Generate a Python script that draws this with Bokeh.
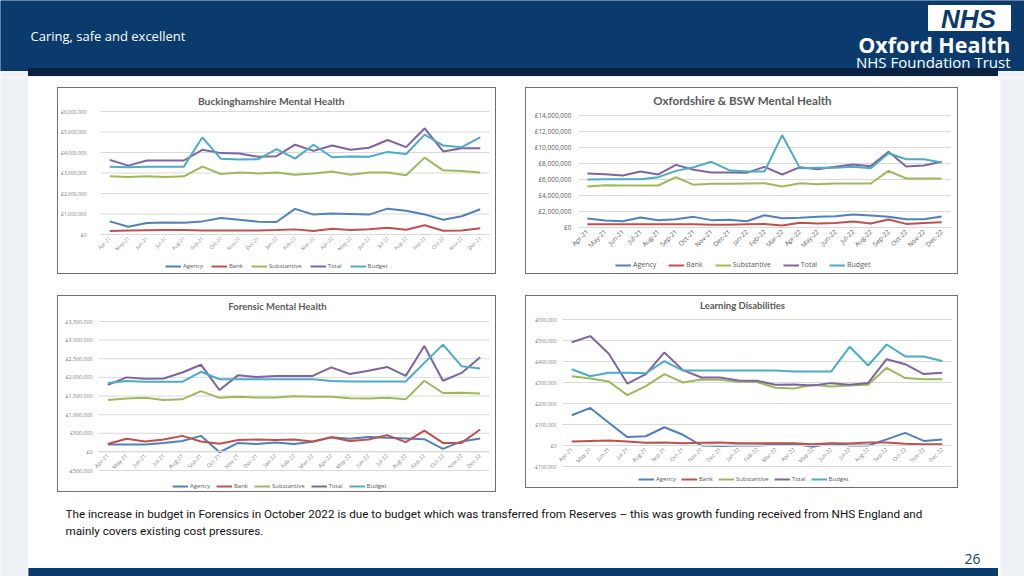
import math
from bokeh.plotting import figure
from bokeh.models import (Range1d, FixedTicker, CustomJSTickFormatter,
                          Legend, LegendItem, Label, Spacer)
from bokeh.layouts import row, column
from bokeh.embed import file_html
from bokeh.resources import INLINE

# ---------------- data ----------------
months = ["Apr-21", "May-21", "Jun-21", "Jul-21", "Aug-21", "Sep-21", "Oct-21", "Nov-21",
          "Dec-21", "Jan-22", "Feb-22", "Mar-22", "Apr-22", "May-22", "Jun-22", "Jul-22",
          "Aug-22", "Sep-22", "Oct-22", "Nov-22", "Dec-22"]
series_names = ["Agency", "Bank", "Substantive", "Total", "Budget"]
series_colors = ["#4f81bd", "#c0504d", "#9bbb59", "#8064a2", "#4bacc6"]

# Buckinghamshire Mental Health
bucks_agency = [640000, 380000, 560000, 590000, 570000, 640000, 800000, 720000, 620000, 610000, 1250000,
                970000, 1020000, 1000000, 970000, 1260000, 1160000, 980000, 720000, 890000, 1230000]
bucks_bank = [170000, 190000, 210000, 215000, 215000, 200000, 200000, 200000, 200000, 220000, 250000,
              170000, 280000, 220000, 260000, 330000, 230000, 450000, 180000, 200000, 300000]
bucks_substantive = [2840000, 2800000, 2840000, 2800000, 2840000, 3310000, 2950000, 3020000, 2980000, 3020000,
                     2920000, 2970000, 3070000, 2920000, 3020000, 3020000, 2890000, 3750000, 3130000, 3100000,
                     3020000]
bucks_total = [3640000, 3360000, 3610000, 3610000, 3610000, 4130000, 3970000, 3950000, 3790000, 3820000,
               4380000, 4080000, 4340000, 4130000, 4230000, 4610000, 4260000, 5180000, 4050000, 4210000,
               4210000]
bucks_budget = [3310000, 3280000, 3300000, 3300000, 3310000, 4740000, 3690000, 3660000, 3670000, 4160000,
                3700000, 4380000, 3770000, 3800000, 3790000, 4030000, 3930000, 4870000, 4340000, 4260000,
                4740000]
bucks_ticks = [0, 1000000, 2000000, 3000000, 4000000, 5000000, 6000000]

# Oxfordshire & BSW Mental Health
oxon_agency = [1120000, 870000, 790000, 1250000, 920000, 1040000, 1330000, 920000, 960000, 790000, 1540000,
               1170000, 1210000, 1330000, 1420000, 1630000, 1500000, 1330000, 1040000, 1040000, 1380000]
oxon_bank = [420000, 400000, 400000, 420000, 420000, 420000, 400000, 350000, 350000, 400000, 450000,
             250000, 600000, 500000, 550000, 750000, 500000, 1000000, 450000, 550000, 650000]
oxon_substantive = [5130000, 5290000, 5250000, 5250000, 5250000, 6290000, 5330000, 5460000, 5460000, 5500000,
                    5540000, 5130000, 5540000, 5420000, 5500000, 5500000, 5500000, 7080000, 6130000, 6130000,
                    6130000]
oxon_total = [6750000, 6670000, 6500000, 7000000, 6630000, 7830000, 7210000, 6880000, 6880000, 6830000,
              7580000, 6630000, 7540000, 7290000, 7580000, 7880000, 7670000, 9460000, 7630000, 7750000,
              8210000]
oxon_budget = [6000000, 6040000, 6040000, 6040000, 6290000, 7080000, 7540000, 8210000, 7170000, 7000000,
               7000000, 11540000, 7420000, 7460000, 7460000, 7580000, 7420000, 9290000, 8540000, 8540000,
               8130000]
oxon_ticks = [0, 2000000, 4000000, 6000000, 8000000, 10000000, 12000000, 14000000]

# Forensic Mental Health
foren_agency = [200000, 200000, 200000, 240000, 290000, 430000, -10000, 240000, 210000, 250000, 210000,
                270000, 390000, 350000, 400000, 380000, 360000, 340000, 80000, 280000, 360000]
foren_bank = [210000, 350000, 280000, 330000, 430000, 280000, 220000, 320000, 330000, 320000, 330000,
              280000, 390000, 290000, 330000, 450000, 260000, 570000, 240000, 240000, 600000]
foren_substantive = [1390000, 1430000, 1450000, 1390000, 1410000, 1630000, 1450000, 1480000, 1460000, 1460000,
                     1490000, 1480000, 1480000, 1440000, 1430000, 1450000, 1410000, 1910000, 1580000, 1590000,
                     1570000]
foren_total = [1800000, 2000000, 1960000, 1970000, 2130000, 2340000, 1660000, 2060000, 2010000, 2040000,
               2040000, 2040000, 2270000, 2090000, 2180000, 2280000, 2040000, 2840000, 1910000, 2120000,
               2540000]
foren_budget = [1850000, 1900000, 1880000, 1880000, 1880000, 2150000, 1950000, 1950000, 1950000, 1950000,
                1950000, 1950000, 1900000, 1890000, 1890000, 1890000, 1890000, 2390000, 2880000, 2300000,
                2240000]
foren_ticks = [-500000, 0, 500000, 1000000, 1500000, 2000000, 2500000, 3000000, 3500000]

# Learning Disabilities
ld_agency = [144000, 179000, 108000, 40000, 44000, 87000, 51000, 0, -2000, 0, 0, 3000, 8000, -6000, 10000,
             0, 0, 29000, 60000, 22000, 29000]
ld_bank = [19000, 22000, 24000, 19000, 13000, 14000, 11000, 13000, 14000, 11000, 11000, 11000, 11000, 6000,
           11000, 10000, 14000, 14000, 8000, 6000, 6000]
ld_substantive = [330000, 319000, 305000, 240000, 283000, 340000, 300000, 314000, 313000, 303000, 302000,
                  275000, 271000, 289000, 281000, 286000, 289000, 370000, 321000, 316000, 316000]
ld_total = [492000, 521000, 437000, 295000, 340000, 443000, 359000, 324000, 324000, 310000, 308000, 289000,
            290000, 286000, 297000, 289000, 298000, 411000, 387000, 340000, 346000]
ld_budget = [363000, 330000, 346000, 346000, 344000, 402000, 357000, 357000, 357000, 357000, 357000, 357000,
             352000, 352000, 352000, 470000, 381000, 481000, 424000, 424000, 402000]
ld_ticks = [-100000, 0, 100000, 200000, 300000, 400000, 500000, 600000]

header_tagline = "Caring, safe and excellent"
logo_text = "NHS"
org_name = "Oxford Health"
org_sub = "NHS Foundation Trust"
footnote_1 = ("The increase in budget in Forensics in October 2022 is due to budget  which was transferred "
              "from Reserves \u2013 this was growth funding received from NHS England and")
footnote_2 = "mainly covers existing cost pressures."
page_number = "26"

HEADER_BLUE = "#0b3a6c"
GRAY_TEXT = "#595959"
GRID = "#d9d9d9"
SIDE = "#eef1f5"


def gbp_formatter():
    return CustomJSTickFormatter(code="""
        const a = Math.abs(tick);
        const s = '\\u00a3' + a.toFixed(0).replace(/\\B(?=(\\d{3})+(?!\\d))/g, ',');
        return tick < 0 ? '-' + s : s;
    """)


def month_formatter():
    return CustomJSTickFormatter(args=dict(labels=months), code="""
        const i = Math.floor(tick);
        return (i >= 0 && i < labels.length) ? labels[i] : '';
    """)


def make_chart(spec):
    bx0, by0, bx1, by1 = spec["box"]          # outer chart box (page px)
    fx0, fy0, fx1, fy1 = spec["frame"]        # plot area (page px)
    ox, oy = bx0 + 1, by0 + 1
    w, h = bx1 - bx0 - 2, by1 - by0 - 2
    ticks = spec["ticks"]
    ymin, ymax = ticks[0], ticks[-1]
    n = len(months)
    kx = n / (fx1 - fx0)
    ky = (ymax - ymin) / (fy1 - fy0)
    xr = Range1d(-(fx0 - ox) * kx, n + (ox + w - fx1) * kx)
    yr = Range1d(ymin - (oy + h - fy1) * ky, ymax + (fy0 - oy) * ky)

    def to_data(X, Y):
        return (X - fx0) * kx, ymax + (fy0 - Y) * ky

    p = figure(width=w, height=h, x_range=xr, y_range=yr, min_border=0,
               output_backend="svg", toolbar_location=None,
               styles={"border": "1px solid #6f6f6f"})
    p.background_fill_color = "white"
    p.border_fill_color = "white"
    p.outline_line_color = None
    p.grid.visible = False

    xs = [i + 0.5 for i in range(n)]

    # horizontal gridlines across the plot area at the tick values
    p.segment(x0=[0] * len(ticks), x1=[n] * len(ticks), y0=ticks, y1=ticks,
              line_color=GRID, line_width=1)

    ya = p.yaxis[0]
    ya.fixed_location = 0
    ya.ticker = FixedTicker(ticks=ticks)
    ya.formatter = gbp_formatter()
    ya.axis_line_color = None
    ya.major_tick_line_color = None
    ya.minor_tick_line_color = None
    ya.major_tick_in = 0
    ya.major_tick_out = 0
    ya.major_label_standoff = spec["ystand"]
    ya.major_label_text_font = "Open Sans"
    ya.major_label_text_font_size = spec["ytick"]
    ya.major_label_text_color = spec["tickcolor"]

    xa = p.xaxis[0]
    xa.fixed_location = 0
    xa.bounds = (0, n)
    xa.ticker = FixedTicker(ticks=xs)
    xa.formatter = month_formatter()
    xa.axis_line_color = GRID
    xa.major_tick_line_color = None
    xa.minor_tick_line_color = None
    xa.major_tick_in = 0
    xa.major_tick_out = 0
    xa.major_label_orientation = math.pi / 4
    xa.major_label_standoff = 3
    xa.major_label_text_font = "Open Sans"
    xa.major_label_text_font_size = spec["xtick"]
    xa.major_label_text_color = spec["tickcolor"]

    items = []
    for name, color, vals in zip(series_names, series_colors, spec["series"]):
        r = p.line(xs, vals, line_color=color, line_width=2)
        items.append(LegendItem(label=name, renderers=[r]))

    lx, lcy = spec["legend_pos"]
    lh = 8
    leg = Legend(items=items, orientation="horizontal",
                 location=(lx - ox, (oy + h) - lcy - lh / 2),
                 glyph_width=16, glyph_height=6, label_height=6, label_width=8,
                 label_standoff=2, spacing=spec["legend_spacing"], padding=0, margin=0,
                 background_fill_alpha=0, border_line_alpha=0,
                 label_text_font="Open Sans", label_text_font_size=spec["legend_size"],
                 label_text_color=GRAY_TEXT)
    p.add_layout(leg)

    tx, ty = to_data(*spec["title_pos"])
    p.add_layout(Label(x=tx, y=ty, text=spec["title"], text_align="center", text_baseline="middle",
                       text_font="Lato", text_font_style="bold", text_font_size=spec["title_size"],
                       text_color=GRAY_TEXT))
    return p


specs = [
    dict(title="Buckinghamshire  Mental Health",
         series=[bucks_agency, bucks_bank, bucks_substantive, bucks_total, bucks_budget],
         ticks=bucks_ticks, box=(57, 87, 498, 276), frame=(100, 111, 489, 234),
         title_pos=(272, 100), title_size="10.3px", ytick="5px", xtick="5px", ystand=14,
         tickcolor="#7f7f7f", legend_pos=(165, 266), legend_size="6px", legend_spacing=8),
    dict(title="Oxfordshire & BSW Mental Health",
         series=[oxon_agency, oxon_bank, oxon_substantive, oxon_total, oxon_budget],
         ticks=oxon_ticks, box=(527, 87, 962, 276), frame=(580, 115, 952, 227),
         title_pos=(744, 100), title_size="11.6px", ytick="6.5px", xtick="6.5px", ystand=7,
         tickcolor="#595959", legend_pos=(617, 265), legend_size="7px", legend_spacing=12),
    dict(title="Forensic Mental Health",
         series=[foren_agency, foren_bank, foren_substantive, foren_total, foren_budget],
         ticks=foren_ticks, box=(57, 295, 498, 494), frame=(98, 321, 489, 470),
         title_pos=(277, 306), title_size="9.5px", ytick="5.3px", xtick="5.5px", ystand=6,
         tickcolor="#7f7f7f", legend_pos=(172, 486), legend_size="6px", legend_spacing=6),
    dict(title="Learning Disabilities",
         series=[ld_agency, ld_bank, ld_substantive, ld_total, ld_budget],
         ticks=ld_ticks, box=(527, 295, 962, 490), frame=(564, 319, 953, 466),
         title_pos=(744, 305), title_size="9.5px", ytick="5px", xtick="5.5px", ystand=6,
         tickcolor="#7f7f7f", legend_pos=(640, 479), legend_size="6px", legend_spacing=5),
]

charts = [make_chart(s) for s in specs]


def deco_fig(w, h, x0, x1, y0, y1, bg):
    p = figure(width=w, height=h, x_range=Range1d(x0, x1), y_range=Range1d(y1, y0),
               output_backend="svg", toolbar_location=None, min_border=0)
    p.axis.visible = False
    p.grid.visible = False
    p.outline_line_color = None
    p.background_fill_color = bg
    p.border_fill_color = bg
    return p


# header (page px x 0..1024, y 0..77)
header = deco_fig(1024, 77, 0, 1024, 0, 77, SIDE)
header.quad(left=[0], right=[1024], top=[0], bottom=[70], color=HEADER_BLUE)
header.quad(left=[28], right=[997], top=[68], bottom=[75], color="#0b2140")
header.quad(left=[928], right=[1010], top=[5], bottom=[30], color="white")
header.add_layout(Label(x=968, y=18, text=logo_text, text_align="center", text_baseline="middle",
                        text_font="Liberation Sans", text_font_style="bold italic",
                        text_font_size="26px", text_color=HEADER_BLUE))
header.add_layout(Label(x=1010, y=44, text=org_name, text_align="right", text_baseline="middle",
                        text_font="Open Sans", text_font_style="bold", text_font_size="21.5px",
                        text_color="white"))
header.add_layout(Label(x=1010, y=61, text=org_sub, text_align="right", text_baseline="middle",
                        text_font="Open Sans", text_font_size="15px", text_color="white"))
header.add_layout(Label(x=30, y=35, text=header_tagline, text_align="left", text_baseline="middle",
                        text_font="Open Sans", text_font_size="13px", text_color="white"))

# footer (page px x 28..1000, y 494..576)
footer = deco_fig(972, 82, 28, 1000, 494, 576, "white")
footer.quad(left=[28], right=[997], top=[568], bottom=[576], color=HEADER_BLUE)
footer.add_layout(Label(x=65, y=513, text=footnote_1, text_align="left", text_baseline="middle",
                        text_font="Roboto", text_font_size="11.7px", text_color="#111111"))
footer.add_layout(Label(x=65, y=530, text=footnote_2, text_align="left", text_baseline="middle",
                        text_font="Roboto", text_font_size="11.7px", text_color="#111111"))
footer.add_layout(Label(x=980, y=558, text=page_number, text_align="right", text_baseline="middle",
                        text_font="Open Sans", text_font_size="14px", text_color="#1f3b66"))

left_margin = deco_fig(28, 499, 0, 1, 0, 1, SIDE)
right_margin = deco_fig(24, 499, 0, 1, 0, 1, SIDE)

row1 = row(Spacer(width=29, height=189), charts[0], Spacer(width=29, height=189), charts[1],
           Spacer(width=38, height=189))
row2 = row(Spacer(width=29, height=199), charts[2], Spacer(width=29, height=199), charts[3],
           Spacer(width=38, height=199))
body = column(Spacer(width=972, height=10), row1, Spacer(width=972, height=19), row2, footer)
middle = row(left_margin, body, right_margin)
page = column(header, middle)

with open("out.html", "w", encoding="utf-8") as f:
    f.write(file_html(page, INLINE))
